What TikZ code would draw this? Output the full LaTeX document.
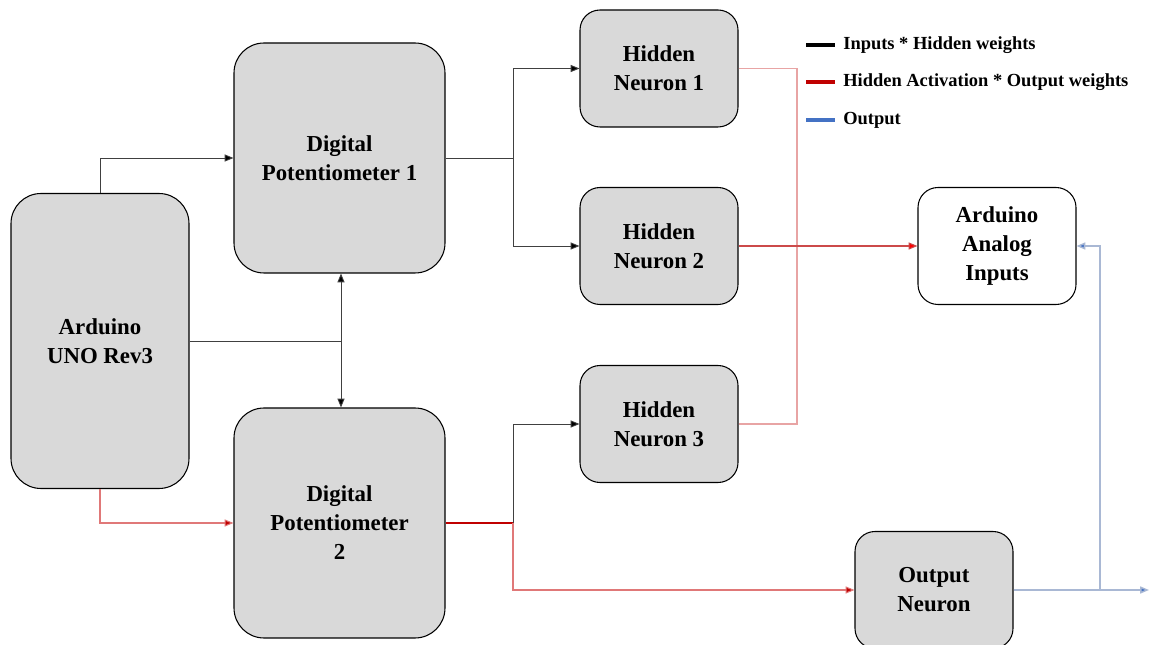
\documentclass[tikz,border=0pt]{standalone}
\usepackage{fontspec}
\setmainfont{Liberation Serif}[BoldFont={Liberation Serif Bold}]
\usetikzlibrary{arrows.meta,calc}
\definecolor{boxgray}{HTML}{D9D9D9}
\definecolor{linegray}{HTML}{404040}
\definecolor{darkred}{HTML}{C00000}
\definecolor{softred}{HTML}{E07878}
\definecolor{palered}{HTML}{E8A4A4}
\definecolor{midred}{HTML}{CC4A4A}
\definecolor{outblue}{HTML}{4472C4}
\definecolor{softblue}{HTML}{A9B8D4}
\tikzset{
  bigbox/.style={draw=black, line width=0.6pt, fill=boxgray, rounded corners=0.6cm, align=center,
    font=\bfseries\fontsize{13}{16.5}\selectfont, inner sep=0pt},
  smallbox/.style={bigbox, rounded corners=0.4cm, minimum width=3.16cm, minimum height=2.34cm},
  blk/.style={draw=linegray, line width=0.5pt, -{Triangle[length=5pt,width=4pt,fill=black]}},
  rd/.style={draw=softred, line width=0.6pt, -{Triangle[length=5pt,width=4pt,fill=darkred]}},
  bl/.style={draw=softblue, line width=0.8pt, -{Triangle[length=5pt,width=4pt,fill=outblue]}},
  legtext/.style={anchor=west, font=\bfseries\fontsize{10.5}{12}\selectfont, inner sep=0pt}
}

\begin{document}
\begin{tikzpicture}
			%%%%% START %%%%%
			\useasboundingbox (0, 0) rectangle (23, 12.9);
			
			\node[bigbox, minimum width=3.56cm, minimum height=5.9cm] (ard) at (2.0, 6.08) {Arduino\\UNO Rev3};
			\node[bigbox, minimum width=4.22cm, minimum height=4.6cm] (dp1) at (6.79, 9.74) {Digital\\Potentiometer 1};
			\node[bigbox, minimum width=4.22cm, minimum height=4.6cm] (dp2) at (6.79, 2.44) {Digital\\Potentiometer\\2};
			
			\node[smallbox] (hn1) at (13.18, 11.53) {Hidden\\Neuron 1};
			\node[smallbox] (hn2) at (13.18, 7.98) {Hidden\\Neuron 2};
			\node[smallbox] (hn3) at (13.18, 4.42) {Hidden\\Neuron 3};
			
			\node[smallbox, fill=white] (ain) at (19.94, 7.98) {Arduino\\Analog\\Inputs};
			\node[smallbox] (out) at (18.68, 1.1) {Output\\Neuron};
			
			% legend
			\node[legtext] (leg1) at (16.86, 12.0) {Inputs * Hidden weights};
			\node[legtext] (leg2) at (16.86, 11.26) {Hidden Activation * Output weights};
			\node[legtext] (leg3) at (16.86, 10.5) {Output};
			\draw[line width=1.8pt, color=black] ($(leg1.west)+(-0.74, 0)$) -- ($(leg1.west)+(-0.16, 0)$);
			\draw[line width=1.8pt, color=darkred] ($(leg2.west)+(-0.74, 0)$) -- ($(leg2.west)+(-0.16, 0)$);
			\draw[line width=1.8pt, color=outblue] ($(leg3.west)+(-0.74, 0)$) -- ($(leg3.west)+(-0.16, 0)$);
			
			% arduino to potentiometers
			\draw[blk] (ard.north) |- (dp1.west);
			\coordinate (j1) at (6.82, 0 |- ard.east);
			\draw[linegray, line width=0.5pt] (ard.east) -- (j1);
			\draw[blk] (j1) -- (j1 |- dp1.south);
			\draw[blk] (j1) -- (j1 |- dp2.north);
			\draw[rd] (ard.south) |- (dp2.west);
			
			% potentiometers to neurons
			\coordinate (s1) at (10.26, 0 |- dp1.east);
			\coordinate (s2) at (10.26, 0 |- dp2.east);
			\draw[linegray, line width=0.5pt] (dp1.east) -- (s1);
			\draw[blk] (s1) |- (hn1.west);
			\draw[blk] (s1) |- (hn2.west);
			\draw[darkred, line width=0.8pt] (dp2.east) -- (s2);
			\draw[blk] (s2) |- (hn3.west);
			\draw[rd] (s2) |- (out.west);
			
			% hidden neurons to analog inputs
			\coordinate (s3) at (15.94, 0 |- hn1.east);
			\draw[palered, line width=0.7pt] (hn1.east) -- (s3) |- (hn3.east);
			\draw[midred, line width=0.6pt, -{Triangle[length=5pt,width=4pt,fill=red]}] (hn2.east) -- (ain.west);
			
			% output
			\coordinate (oend) at (22.98, 0 |- out.east);
			\coordinate (s4) at (22.0, 0 |- out.east);
			\draw[bl] (out.east) -- (oend);
			\draw[bl] (s4) |- (ain.east);
			
			%%%%% END %%%%%
		\end{tikzpicture}
\end{document}
